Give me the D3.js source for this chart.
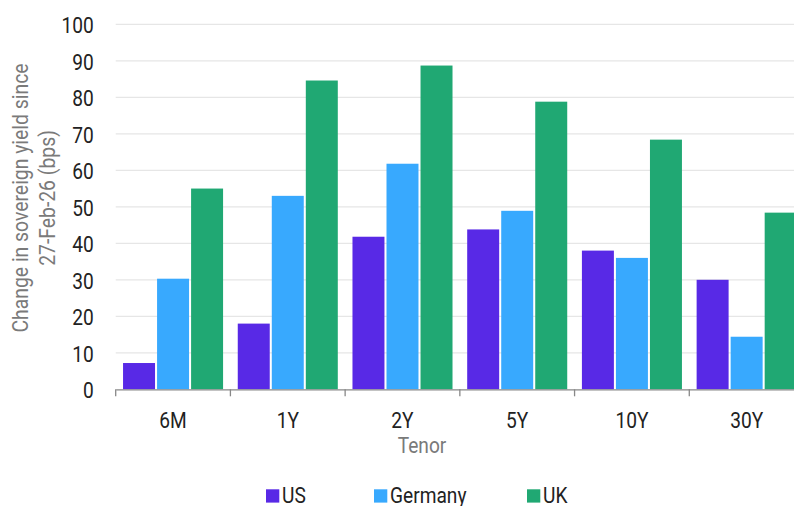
<!DOCTYPE html>
<html>
<head>
<meta charset="utf-8">
<script src="https://cdn.jsdelivr.net/npm/d3@7"></script>
<style>
	html, body { margin: 0; padding: 0; background: #fff; }
	svg { display: block; font-family: Roboto, sans-serif; }
</style>
</head>
<body>
<svg id="chart"></svg>
<script>
// chart data
const tenors = ["6M", "1Y", "2Y", "5Y", "10Y", "30Y"];
const seriesNames = ["US", "Germany", "UK"];
const usValues = [7.2, 18, 41.8, 43.8, 38, 30];
const germanyValues = [30.3, 53, 61.8, 48.9, 36, 14.4];
const ukValues = [55, 84.6, 88.7, 78.8, 68.4, 48.4];
const yTicks = [0, 10, 20, 30, 40, 50, 60, 70, 80, 90, 100];
const colors = ["#5829E6", "#38A9FE", "#20A873"];

const config = {
	width: 794,
	height: 506,
	margin: { top: 24.3, right: -10, bottom: 116.7, left: 115.7 },
	fontSize: 22,
	squeeze: 0.87 // text in the reference is narrower than plain Roboto
};

const table = tenors.map((t, i) => ({
	tenor: t,
	values: [usValues[i], germanyValues[i], ukValues[i]]
}));

const svg = d3.select("#chart")
	.attr("width", config.width)
	.attr("height", config.height);

const x0 = d3.scaleBand()
	.domain(tenors)
	.range([config.margin.left, config.width - config.margin.right])
	.paddingInner(0.128)
	.paddingOuter(0.064);

const xBand = d3.scaleBand()
	.domain(tenors)
	.range([config.margin.left, config.width - config.margin.right]);

const x1 = d3.scaleBand()
	.domain(seriesNames)
	.range([0, x0.bandwidth()])
	.paddingInner(0.06);

const y = d3.scaleLinear()
	.domain([0, 100])
	.range([config.height - config.margin.bottom, config.margin.top]);

// grid lines
svg.append("g")
	.selectAll("line")
	.data(yTicks.filter(d => d > 0))
	.join("line")
	.attr("x1", config.margin.left)
	.attr("x2", config.width)
	.attr("y1", d => y(d))
	.attr("y2", d => y(d))
	.attr("stroke", "#e6e6e6")
	.attr("stroke-width", 1.3);

// y axis labels
const yAxis = g => g.attr("transform", `translate(${config.margin.left}, 0)`)
	.call(d3.axisLeft(y).tickValues(yTicks).tickSize(0))
	.call(g => g.select(".domain").remove())
	.call(g => g.selectAll("text")
		.attr("x", 0)
		.attr("dy", "0.38em")
		.attr("transform", `translate(-22, 0) scale(${config.squeeze}, 1)`)
		.attr("font-size", config.fontSize + "px")
		.attr("font-family", "Roboto, sans-serif")
		.attr("fill", "#222"));
svg.append("g").call(yAxis);

// bars
svg.append("g")
	.selectAll("g")
	.data(table)
	.join("g")
	.attr("transform", d => `translate(${x0(d.tenor)}, 0)`)
	.selectAll("rect")
	.data(d => d.values.map((v, i) => ({ key: seriesNames[i], value: v, idx: i })))
	.join("rect")
	.attr("x", d => x1(d.key))
	.attr("y", d => y(d.value))
	.attr("width", x1.bandwidth())
	.attr("height", d => y(0) - y(d.value))
	.attr("fill", d => colors[d.idx]);

// x axis
const xAxis = g => g.attr("transform", `translate(0, ${y(0)})`)
	.call(d3.axisBottom(xBand).tickSize(0).tickPadding(22.8).tickSizeOuter(0))
	.call(g => g.select(".domain").attr("stroke", "#888").attr("stroke-width", 1.3))
	.call(g => g.selectAll("text")
		.attr("transform", `scale(${config.squeeze}, 1)`)
		.attr("font-size", config.fontSize + "px")
		.attr("font-family", "Roboto, sans-serif")
		.attr("fill", "#222"));
svg.append("g").call(xAxis);

// band boundary ticks
svg.append("g")
	.selectAll("line")
	.data(tenors)
	.join("line")
	.attr("x1", d => xBand(d))
	.attr("x2", d => xBand(d))
	.attr("y1", y(0))
	.attr("y2", y(0) + 7)
	.attr("stroke", "#888")
	.attr("stroke-width", 1.3);

// axis titles
svg.append("text")
	.attr("transform", `translate(422, 453.3) scale(${config.squeeze}, 1)`)
	.attr("text-anchor", "middle")
	.attr("font-size", config.fontSize + "px")
	.attr("fill", "#7a7a7a")
	.text("Tenor");

const yTitle = svg.append("text")
	.attr("transform", `translate(0, 198) rotate(-90) scale(0.88, 1)`)
	.attr("text-anchor", "middle")
	.attr("font-size", "22px")
	.attr("fill", "#7a7a7a");
yTitle.append("tspan").attr("x", 0).attr("y", 28.5).text("Change in sovereign yield since");
yTitle.append("tspan").attr("x", 0).attr("y", 55.5).text("27-Feb-26 (bps)");

// legend
const legendX = [266, 374, 527];
const legend = svg.append("g")
	.selectAll("g")
	.data(seriesNames)
	.join("g")
	.attr("transform", (d, i) => `translate(${legendX[i]}, 489.3)`);

legend.append("rect")
	.attr("width", 13.3)
	.attr("height", 13.3)
	.attr("fill", (d, i) => colors[i]);

legend.append("text")
	.attr("transform", `translate(16, 13.4) scale(${config.squeeze}, 1)`)
	.attr("font-size", config.fontSize + "px")
	.attr("fill", "#222")
	.text(d => d);
</script>
</body>
</html>
